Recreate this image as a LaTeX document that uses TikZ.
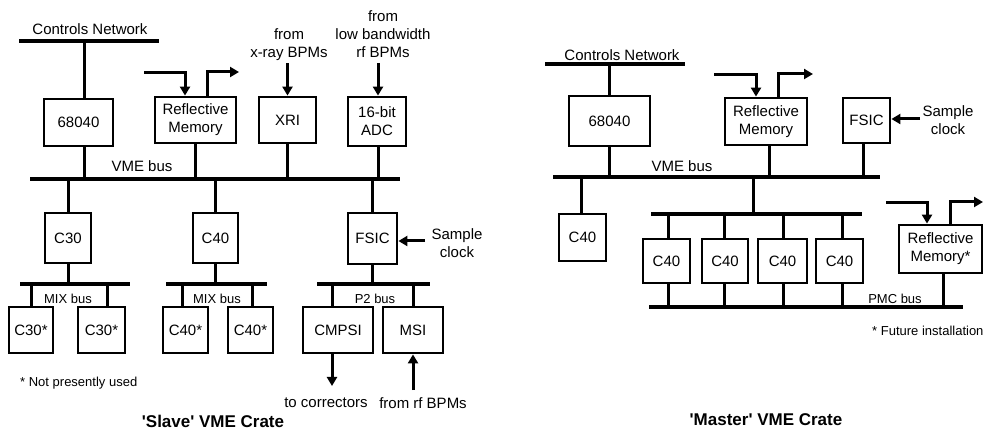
\documentclass[tikz,border=0pt]{standalone}
\usepackage{fontspec}
\setmainfont{Liberation Sans}[Ligatures=TeXOff]
\usetikzlibrary{arrows.meta}
\tikzset{
  box/.style={draw, line width=2.8pt, inner sep=0pt, font=\fontsize{15}{18}\selectfont, align=center},
  wire/.style={line width=3pt},
  bus/.style={line width=3.3pt},
  arr/.style={line width=3pt, -{Triangle[length=9pt,width=10pt]}},
  lbl/.style={inner sep=0pt, font=\fontsize{15}{18}\selectfont, align=center},
  small/.style={inner sep=0pt, font=\fontsize{13}{15}\selectfont},
  ttl/.style={inner sep=0pt, font=\bfseries\fontsize{17}{20}\selectfont},
}
\begin{document}
\begin{tikzpicture}[x=1pt,y=-1pt]
\useasboundingbox[fill=white] (0,0) rectangle (985,435);

% ================= Slave crate =================
\node[lbl] (cnt1) at (90,29) {Controls Network};
\coordinate (cn1L) at (19,41); \coordinate (cn1R) at (159,41);
\draw[bus] (cn1L) -- (cn1R);

\coordinate (vme1L) at (30,179); \coordinate (vme1R) at (400,179);
\draw[bus] (vme1L) -- (vme1R);
\node[lbl] (vme1t) at (142,166) {VME bus};

\node[box, minimum width=69, minimum height=47] (cpu1) at (78.5,122.5) {68040};
\draw[wire] ([xshift=5.5pt]cpu1.north) -- ([xshift=5.5pt]cpu1.north |- cn1L);
\draw[wire] ([xshift=5.5pt]cpu1.south) -- ([xshift=5.5pt]cpu1.south |- vme1L);

\node[box, minimum width=81, minimum height=46] (rm1) at (195.5,120) {Reflective\\Memory};
\draw[wire] (rm1.south) -- (rm1.south |- vme1L);
\coordinate (rm1in) at (144,73);
\coordinate (rm1out) at (239,72);
\draw[arr] (rm1in) -| ([xshift=-10.5pt]rm1.north);
\draw[arr] ([xshift=11.5pt]rm1.north) |- (rm1out);

\node[box, minimum width=57, minimum height=46] (xri) at (287.5,120) {XRI};
\node[lbl] (xrit) at (289,45) {from\\x-ray BPMs};
\draw[arr] (xri.north |- xrit.south) ++(0,2) -- (xri.north);
\draw[wire] (xri.south) -- (xri.south |- vme1L);

\node[box, minimum width=58, minimum height=49] (adc) at (377,121.5) {16-bit\\ADC};
\node[lbl] (adct) at (383,34) {from\\low bandwidth\\rf BPMs};
\coordinate (adcsrc) at (378,63);
\draw[arr] (adcsrc) -- (adcsrc |- adc.north);
\draw[wire] (adcsrc |- adc.south) -- (adcsrc |- vme1L);

\node[box, minimum width=46, minimum height=50] (c30) at (68,238) {C30};
\node[box, minimum width=45, minimum height=50] (c40a) at (215.5,238) {C40};
\node[box, minimum width=49, minimum height=51] (fsic1) at (372.5,238.5) {FSIC};
\draw[wire] (c30.north |- vme1L) -- (c30.north);
\draw[wire] (c40a.north |- vme1L) -- (c40a.north);
\draw[wire] (fsic1.north |- vme1L) -- (fsic1.north);

\coordinate (sc1) at (425,241);
\draw[arr] (sc1) -- (sc1 -| fsic1.east);
\node[lbl] (sc1t) at (457,243) {Sample\\clock};

% MIX bus 1
\coordinate (mix1L) at (20,284); \coordinate (mix1R) at (130,284);
\draw[bus] (mix1L) -- (mix1R);
\node[small] (mix1t) at (68,299) {MIX bus};
\draw[wire] (c30.south) -- (c30.south |- mix1L);
\node[box, minimum width=44, minimum height=46] (c30s1) at (31,330) {C30*};
\node[box, minimum width=47, minimum height=46] (c30s2) at (101.5,330) {C30*};
\draw[wire] (c30s1.north |- mix1L) -- (c30s1.north);
\draw[wire] ([xshift=5.5pt]c30s2.north |- mix1L) -- ([xshift=5.5pt]c30s2.north);

% MIX bus 2
\coordinate (mix2L) at (166,284); \coordinate (mix2R) at (267,284);
\draw[bus] (mix2L) -- (mix2R);
\node[small] (mix2t) at (217,299) {MIX bus};
\draw[wire] (c40a.south) -- (c40a.south |- mix2L);
\node[box, minimum width=45, minimum height=46] (c40s1) at (185.5,330) {C40*};
\node[box, minimum width=45, minimum height=46] (c40s2) at (250.5,330) {C40*};
\draw[wire] ([xshift=-3.5pt]c40s1.north |- mix2L) -- ([xshift=-3.5pt]c40s1.north);
\draw[wire] ([xshift=1.5pt]c40s2.north |- mix2L) -- ([xshift=1.5pt]c40s2.north);

% P2 bus
\coordinate (p2L) at (317,284); \coordinate (p2R) at (430,284);
\draw[bus] (p2L) -- (p2R);
\node[small] (p2t) at (375,299) {P2 bus};
\draw[wire] (fsic1.south) -- (fsic1.south |- p2L);
\node[box, minimum width=70, minimum height=46] (cmpsi) at (338,330) {CMPSI};
\node[box, minimum width=60, minimum height=46] (msi) at (413,330) {MSI};
\draw[wire] ([xshift=-6pt]cmpsi.north |- p2L) -- ([xshift=-6pt]cmpsi.north);
\draw[wire] (msi.north |- p2L) -- (msi.north);

\coordinate (corr) at (332,386);
\draw[arr] (corr |- cmpsi.south) -- (corr);
\node[lbl] (corrt) at (326,403) {to correctors};
\coordinate (rfsrc) at (413,390);
\draw[arr] (rfsrc) -- (rfsrc |- msi.south);
\node[lbl] (rft) at (423,403) {from rf BPMs};

\node[small, anchor=west] (np) at (20,383) {* Not presently used};
\node[ttl] (slave) at (213,421) {'Slave' VME Crate};

% ================= Master crate =================
\node[lbl] (cnt2) at (622,55) {Controls Network};
\coordinate (cn2L) at (545,64); \coordinate (cn2R) at (685,64);
\draw[bus] (cn2L) -- (cn2R);

\coordinate (vme2L) at (553,177); \coordinate (vme2R) at (880,177);
\draw[bus] (vme2L) -- (vme2R);
\node[lbl] (vme2t) at (682,166) {VME bus};

\node[box, minimum width=81, minimum height=50] (cpu2) at (609.5,121) {68040};
\draw[wire] (cpu2.north) -- (cpu2.north |- cn2L);
\draw[wire] (cpu2.south) -- (cpu2.south |- vme2L);

\node[box, minimum width=82, minimum height=47] (rm2) at (766,121.5) {Reflective\\Memory};
\draw[wire] ([xshift=3pt]rm2.south) -- ([xshift=3pt]rm2.south |- vme2L);
\coordinate (rm2in) at (714,75);
\coordinate (rm2out) at (813,74);
\draw[arr] (rm2in) -| ([xshift=-10pt]rm2.north);
\draw[arr] ([xshift=12pt]rm2.north) |- (rm2out);

\node[box, minimum width=47, minimum height=45] (fsic2) at (866.5,120.5) {FSIC};
\draw[wire] ([xshift=-3.5pt]fsic2.south) -- ([xshift=-3.5pt]fsic2.south |- vme2L);
\coordinate (sc2) at (920,119);
\draw[arr] (sc2) -- (sc2 -| fsic2.east);
\node[lbl] (sc2t) at (948,120) {Sample\\clock};

\node[box, minimum width=47, minimum height=47] (c40m) at (582.5,237.5) {C40};
\draw[wire] ([xshift=-1.5pt]c40m.north |- vme2L) -- ([xshift=-1.5pt]c40m.north);

\coordinate (ibL) at (651,214); \coordinate (ibR) at (862,214);
\coordinate (ibtap) at (753,214);
\draw[bus] (ibL) -- (ibR);
\draw[wire] (ibtap |- vme2L) -- (ibtap);

\coordinate (pmcL) at (649,307); \coordinate (pmcR) at (963,307);
\draw[bus] (pmcL) -- (pmcR);
\node[small] (pmct) at (895,299) {PMC bus};

\foreach \n/\cx/\w/\dx in {a/666.5/47/1.5, b/725/46/-1, c/782.5/49/0.5, d/839.5/47/2.5}{
  \node[box, minimum width=\w, minimum height=44] (cc\n) at (\cx,261) {C40};
  \draw[wire] ([xshift=\dx pt]cc\n.north |- ibL) -- ([xshift=\dx pt]cc\n.north);
  \draw[wire] ([xshift=\dx pt]cc\n.south) -- ([xshift=\dx pt]cc\n.south |- pmcL);
}

\node[box, minimum width=83, minimum height=48] (rm3) at (940.5,249) {Reflective\\Memory*};
\draw[wire] ([xshift=2.5pt]rm3.south) -- ([xshift=2.5pt]rm3.south |- pmcL);
\coordinate (rm3in) at (886,203);
\coordinate (rm3out) at (983,202);
\draw[arr] (rm3in) -| ([xshift=-13.5pt]rm3.north);
\draw[arr] ([xshift=9.5pt]rm3.north) |- (rm3out);

\node[small, anchor=west] (fi) at (872,331) {* Future installation};
\node[ttl] (master) at (766,420) {'Master' VME Crate};
\end{tikzpicture}
\end{document}
